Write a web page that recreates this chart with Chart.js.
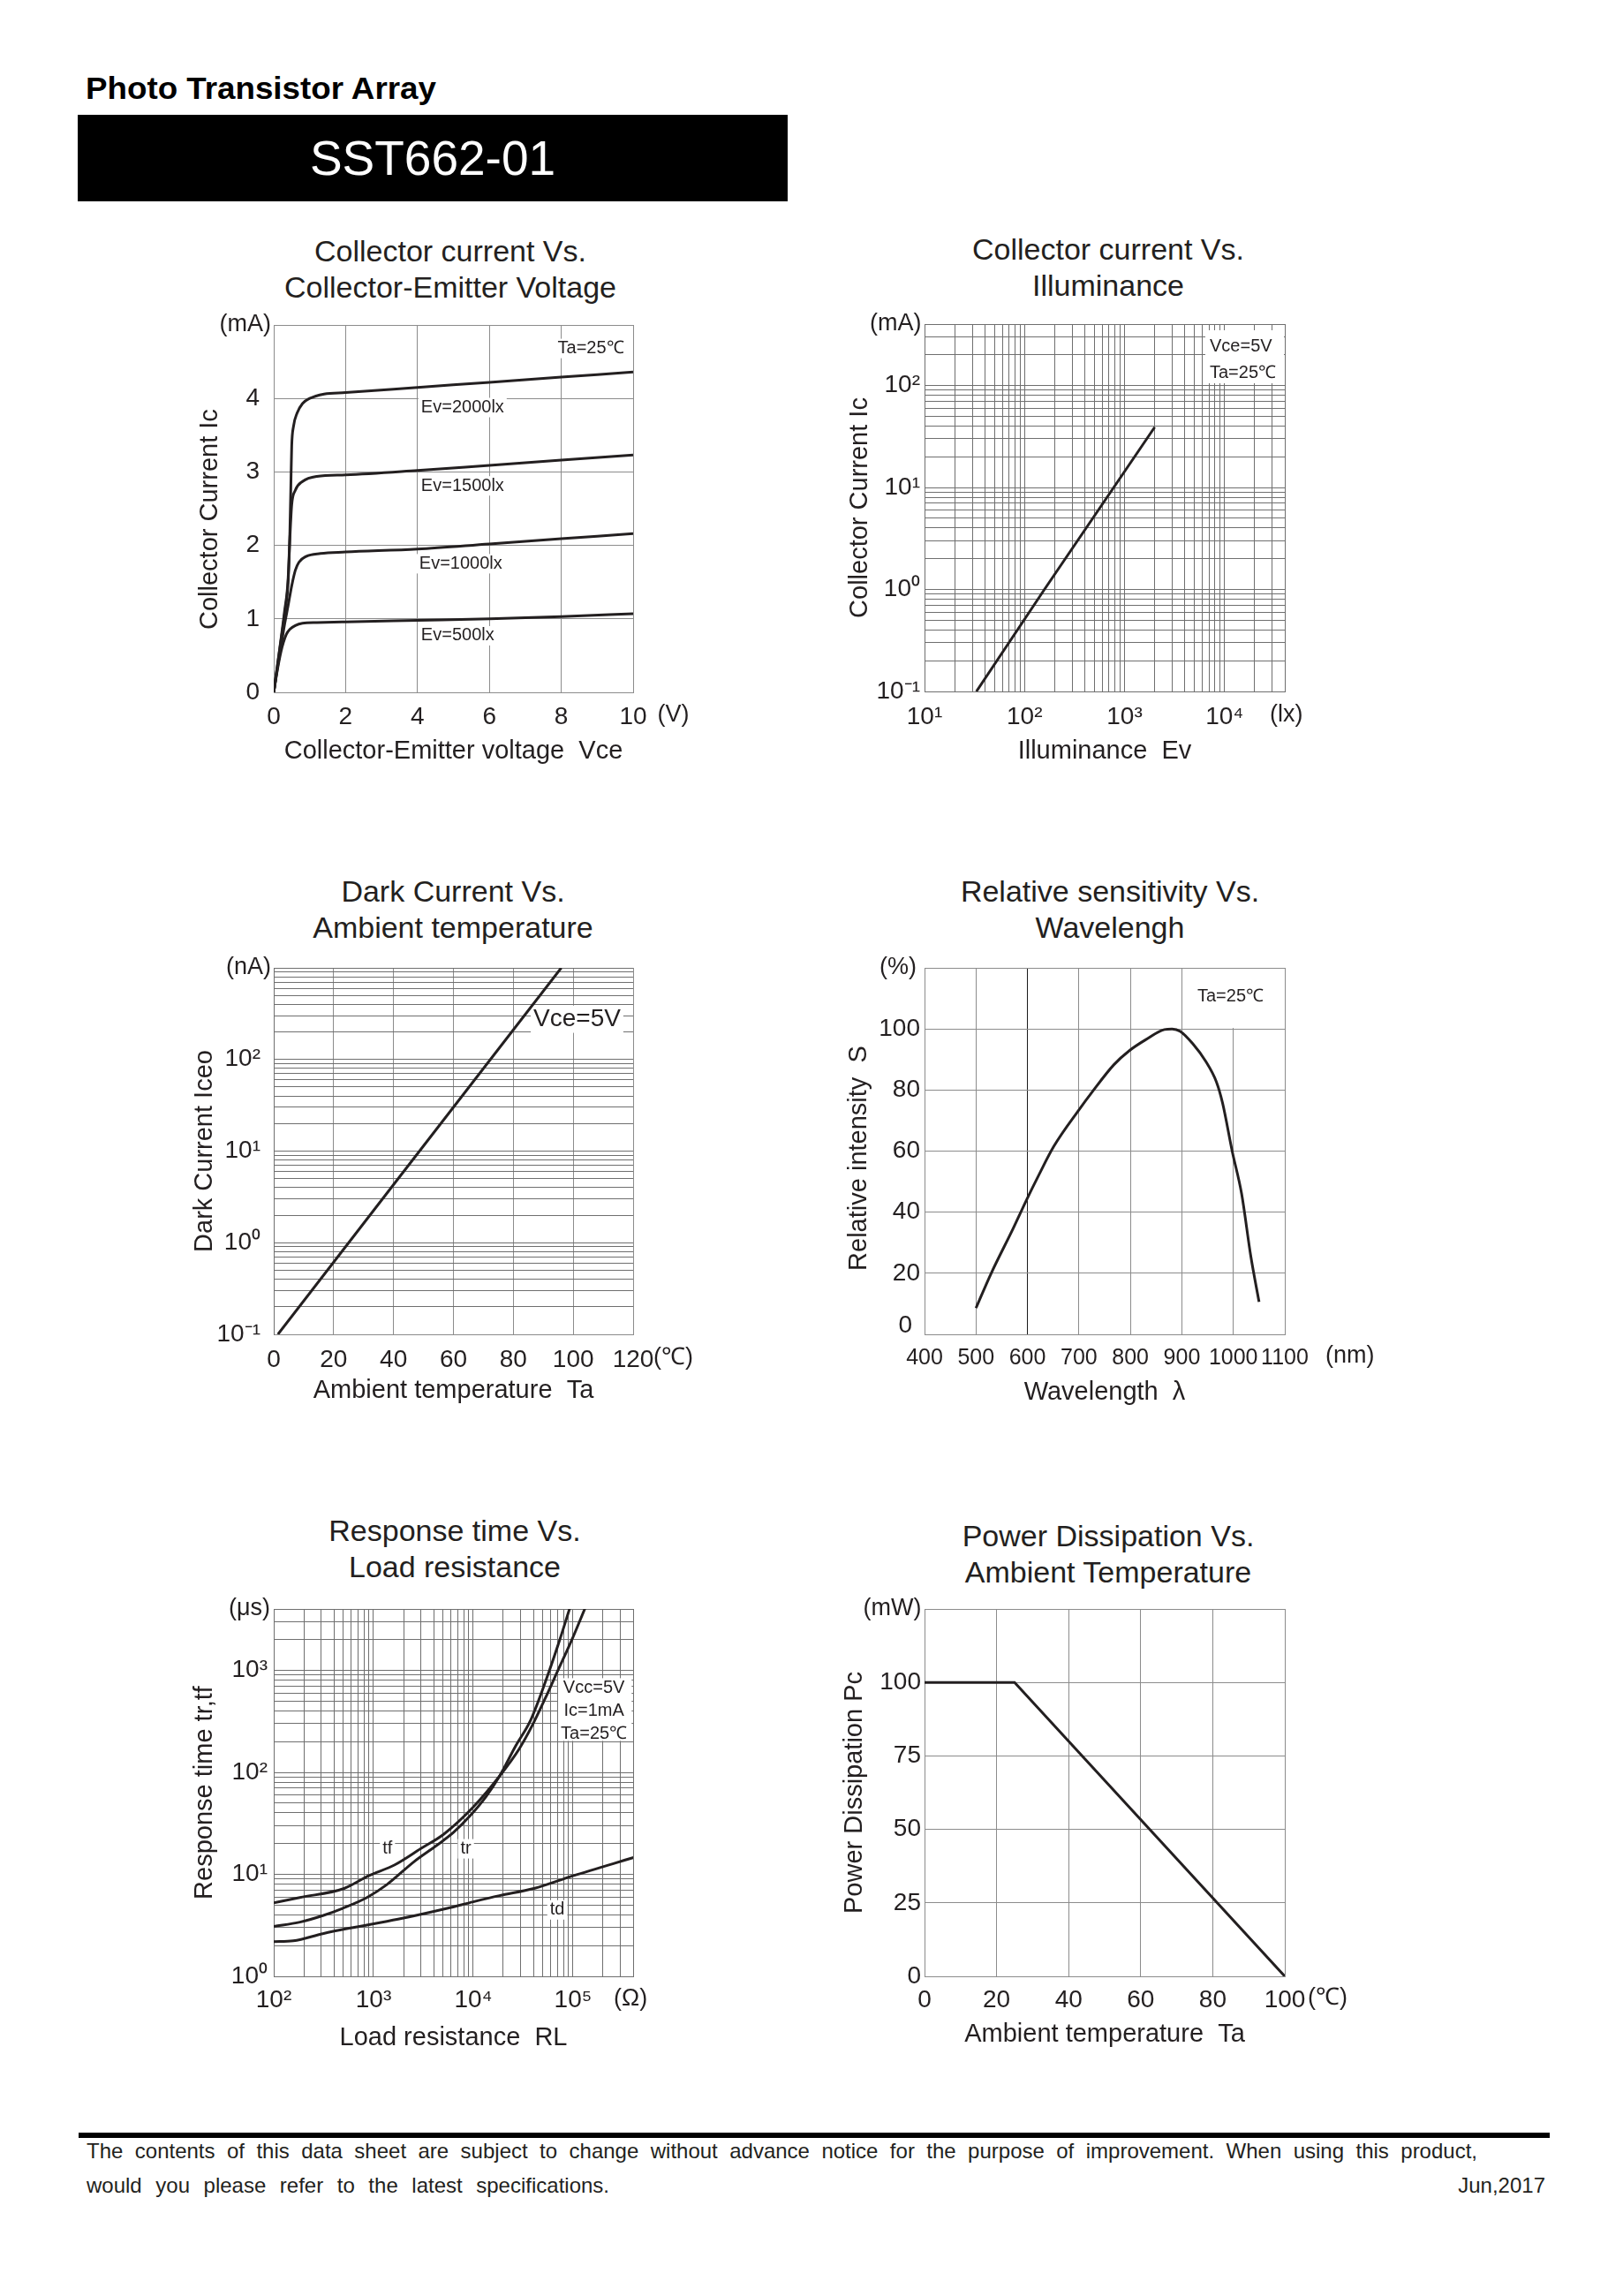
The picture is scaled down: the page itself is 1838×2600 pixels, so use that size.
<!DOCTYPE html>
<html><head><meta charset="utf-8">
<script src="https://cdn.jsdelivr.net/npm/chart.js@4.4.0/dist/chart.umd.min.js"></script>
<style>
html,body{margin:0;padding:0;background:#fff;}
body{width:1838px;height:2600px;position:relative;overflow:hidden;font-family:'Liberation Sans',Arial,Helvetica,sans-serif;color:#231f20;}
.abs{position:absolute;white-space:nowrap;}
.ttl{position:absolute;width:600px;text-align:center;font-size:34px;line-height:41px;white-space:nowrap;color:#231f20;}
canvas{position:absolute;}
</style></head><body>
<div class="abs" style="left:97px;top:82.1px;font-size:35px;line-height:35px;font-weight:bold;color:#000;transform:scaleX(1.05);transform-origin:0 0;">Photo Transistor Array</div>
<div class="abs" style="left:88px;top:130px;width:804px;height:98px;background:#000;"></div>
<div class="abs" style="left:88px;top:151.7px;width:804px;text-align:center;color:#fff;font-size:55px;line-height:55px;">SST662-01</div>

<div class="ttl" style="left:210px;top:264.4px;">Collector current Vs.<br>Collector-Emitter Voltage</div>
<div class="ttl" style="left:955px;top:262px;">Collector current Vs.<br>Illuminance</div>
<div class="ttl" style="left:213px;top:989.2px;">Dark Current Vs.<br>Ambient temperature</div>
<div class="ttl" style="left:957px;top:989.2px;">Relative sensitivity Vs.<br>Wavelengh</div>
<div class="ttl" style="left:215px;top:1712.6px;">Response time Vs.<br>Load resistance</div>
<div class="ttl" style="left:955px;top:1718.7px;">Power Dissipation Vs.<br>Ambient Temperature</div>

<div class="abs" style="left:89px;top:2415px;width:1666px;height:6px;background:#000;"></div>
<div class="abs" style="left:98px;top:2423.7px;width:1575px;font-size:24px;line-height:24px;text-align:justify;text-align-last:justify;white-space:normal;">The contents of this data sheet are subject to change without advance notice for the purpose of improvement. When using this product,</div>
<div class="abs" style="left:98px;top:2462.7px;width:592px;font-size:24px;line-height:24px;text-align:justify;text-align-last:justify;white-space:normal;">would you please refer to the latest specifications.</div>
<div class="abs" style="left:1550px;top:2462.7px;width:200px;font-size:24px;line-height:24px;text-align:right;">Jun,2017</div>

<script>
// ===================== DATA =====================
// Chart 1: Collector current vs Collector-Emitter voltage (mA vs V)
const vce500  = [0,0.1,0.2,0.27,0.35,0.45,0.6,0.8,1.2,2,4,6,8,10];
const ic500   = [0,0.3,0.55,0.68,0.79,0.86,0.91,0.94,0.95,0.96,0.98,1.0,1.03,1.07];
const vce1000 = [0,0.1,0.2,0.3,0.4,0.5,0.6,0.7,0.9,1.3,2,4,6,8,10];
const ic1000  = [0,0.32,0.62,0.92,1.18,1.45,1.66,1.77,1.85,1.89,1.91,1.95,2.02,2.09,2.16];
const vce1500 = [0,0.1,0.2,0.3,0.4,0.45,0.5,0.6,0.8,1.2,2,4,6,8,10];
const ic1500  = [0,0.35,0.7,1.05,1.5,2.1,2.55,2.75,2.87,2.94,2.96,3.02,3.09,3.16,3.23];
const vce2000 = [0,0.1,0.2,0.3,0.4,0.45,0.48,0.5,0.55,0.65,0.8,1.0,1.4,2,4,6,8,10];
const ic2000  = [0,0.36,0.72,1.1,1.55,2.2,2.9,3.35,3.62,3.8,3.93,4.0,4.06,4.08,4.15,4.22,4.29,4.36];
const vceTicks = [0,2,4,6,8,10];
const icTicks  = [0,1,2,3,4];

// Chart 2: Collector current vs Illuminance (log-log)
const evLux = [33, 158, 2000];
const icEv  = [0.1, 1.0, 39];
const luxDecades = [10, 100, 1000, 10000];
const icDecades  = [0.1, 1, 10, 100];

// Chart 3: Dark current vs ambient temperature
const taDark = [1.4, 40, 96];
const iceo   = [0.1, 4.3, 1000];
const taTicks3 = [0,20,40,60,80,100,120];
const iceoDecades = [0.1, 1, 10, 100];

// Chart 4: Relative sensitivity vs wavelength
const wavelength = [500,529,572,599,621,651,700,725,768,798,829,866,881,897,921,946,967,979,998,1016,1034,1050];
const sensitivity = [8.6,19.8,34.6,44.3,51.8,61.5,73.5,79.2,88.3,92.9,96.4,99.8,100,99.2,95.2,89.5,82.7,75.8,59.8,46.1,25.5,10.6];
const wlTicks = [400,500,600,700,800,900,1000,1100];
const sTicks  = [20,40,60,80,100];

// Chart 5: Response time vs load resistance (log-log)
const rlTf = [100,183,507,893,1633,2985,5070,10000,18280,28760,38900,52500,71100,96400,132000];
const tf   = [5.25,5.93,7.27,9.68,12.4,17.9,24.8,45.7,91.4,169,287,529,1016,1954,4074];
const rlTr = [100,183,310,489,860,1352,2570,4355,6350,9270,13500,18280,26700,37500,52600,71100,92700];
const tr   = [3.08,3.4,3.94,4.64,5.93,7.89,13.4,19.4,25.8,37.4,58.3,91.4,183,324,764,1800,4074];
const rlTd = [100,157,310,568,1763,5470,10000,18280,40500,100000,404000];
const td   = [2.19,2.23,2.62,2.96,3.63,4.64,5.38,6.18,7.27,9.68,14.6];
const rlDecades = [100, 1000, 10000, 100000];
const tDecades  = [1, 10, 100, 1000];

// Chart 6: Power dissipation vs ambient temperature
const taPow = [0, 25, 100];
const pc    = [100, 100, 0];
const taTicks6 = [0,20,40,60,80,100];
const pcTicks  = [0,25,50,75,100];

// ===================== HELPERS =====================
const FONT = "'Liberation Sans', Arial, Helvetica, sans-serif";
const TXT = '#231f20';
const GRID = '#8c8c8c';
const GRIDLOG = '#6f6f6f';
const LINE = '#231f20';
const TICK = 28;

function pts(xs, ys) { return xs.map((x, i) => ({x: x, y: ys[i]})); }
function logGrid(decades, top) {
  const out = [];
  decades.forEach(d => { for (let m = 1; m <= 9; m++) { const v = Number((m * d).toPrecision(6)); if (v <= top) out.push(v); } });
  if (out[out.length - 1] !== top) out.push(top);
  return out;
}
const SUP = {'-':'\u207B','0':'\u2070','1':'\u00B9','2':'\u00B2','3':'\u00B3','4':'\u2074','5':'\u2075'};
function powLabel(decades) {
  return function (v) {
    for (const d of decades) {
      if (Math.abs(v - d) < d * 1e-6) {
        const e = Math.round(Math.log10(d));
        return '10' + String(e).split('').map(c => SUP[c]).join('');
      }
    }
    return '';
  };
}
function listLabel(list) { return function (v) { return list.some(t => Math.abs(t - v) < 1e-9) ? String(v) : ''; }; }

const annotPlugin = {
  id: 'annot',
  beforeDatasetsDraw(chart, args, opts) {
    const ctx = chart.ctx, a = chart.chartArea, xs = chart.scales.x, ys = chart.scales.y;
    const pos = (it) => {
      if (it.data) return [xs.getPixelForValue(it.data[0]), ys.getPixelForValue(it.data[1])];
      return [(it.ax === 'right' ? a.right : a.left) + (it.dx || 0), (it.ay === 'bottom' ? a.bottom : a.top) + (it.dy || 0)];
    };
    ctx.save();
    (opts.boxes || []).forEach(b => { const p = pos(b); ctx.fillStyle = '#fff'; ctx.fillRect(p[0], p[1], b.w, b.h); });
    (opts.labels || []).forEach(l => {
      const p = pos(l), size = l.size || 20;
      ctx.font = size + 'px ' + FONT;
      ctx.textAlign = l.align || 'left';
      ctx.textBaseline = 'middle';
      if (l.bg) {
        const w = ctx.measureText(l.text).width;
        const x0 = l.align === 'center' ? p[0] - w / 2 : (l.align === 'right' ? p[0] - w : p[0]);
        ctx.fillStyle = '#fff'; ctx.fillRect(x0 - 3, p[1] - size * 0.55, w + 6, size * 1.1);
      }
      ctx.fillStyle = TXT; ctx.fillText(l.text, p[0], p[1]);
    });
    ctx.restore();
  }
};

function scale(o) {
  const s = {
    type: o.type, min: o.min, max: o.max, position: o.pos,
    grid: {color: o.gridColor || GRID, lineWidth: 1, drawTicks: false},
    border: {display: true, color: o.borderColor || GRID, width: 1},
    ticks: {autoSkip: false, maxRotation: 0, minRotation: 0, padding: o.tickPad, color: TXT,
            font: {family: FONT, size: o.tickSize || TICK}, callback: o.cb},
    title: {display: true, text: o.title, color: TXT, font: {family: FONT, size: 29},
            padding: o.pos === 'bottom' ? {top: 0, bottom: o.titlePad} : {top: o.titlePad, bottom: 0}},
    afterFit: o.pos === 'bottom'
      ? function (sc) { sc.height = 100; sc.paddingLeft = 0; sc.paddingRight = 0; }
      : function (sc) { sc.width = 120; sc.paddingTop = 0; sc.paddingBottom = 0; }
  };
  if (o.step !== undefined) s.ticks.stepSize = o.step;
  if (o.grid) s.afterBuildTicks = function (sc) { sc.ticks = o.grid.map(v => ({value: v})); };
  return s;
}

function line(data, smooth) {
  return {data: data, borderColor: LINE, borderWidth: 3, pointRadius: 0, fill: false,
          showLine: true, tension: 0, cubicInterpolationMode: smooth ? 'monotone' : 'default'};
}

function mk(plotLeft, plotTop, plotW, plotH, datasets, xs, ys, annot) {
  const c = document.createElement('canvas');
  const W = 120 + plotW + 110, H = 40 + plotH + 100;
  c.width = W; c.height = H;
  c.style.left = (plotLeft - 120) + 'px'; c.style.top = (plotTop - 40) + 'px';
  c.style.width = W + 'px'; c.style.height = H + 'px';
  document.body.appendChild(c);
  new Chart(c.getContext('2d'), {
    type: 'scatter',
    data: {datasets: datasets},
    plugins: [annotPlugin],
    options: {
      responsive: false, animation: false, devicePixelRatio: 1,
      layout: {padding: {left: 0, top: 40, right: 110, bottom: 0}},
      plugins: {legend: {display: false}, tooltip: {enabled: false}, annot: annot},
      scales: {x: xs, y: ys}
    }
  });
}

// ===================== CHART 1 =====================
mk(310, 368, 407, 416,
  [line(pts(vce500, ic500), true), line(pts(vce1000, ic1000), true), line(pts(vce1500, ic1500), true), line(pts(vce2000, ic2000), true)],
  scale({type: 'linear', min: 0, max: 10, step: 2, pos: 'bottom', tickPad: 11, cb: listLabel(vceTicks),
         title: 'Collector-Emitter voltage  Vce', titlePad: 15.6}),
  scale({type: 'linear', min: 0, max: 5, step: 1, pos: 'left', tickPad: 16, cb: listLabel(icTicks),
         title: 'Collector Current Ic   ', titlePad: 30.3}),
  {labels: [
    {text: '(mA)', ax: 'left', dx: -3, ay: 'top', dy: 0, align: 'right', size: 27},
    {text: '(V)', ax: 'right', dx: 27.5, ay: 'bottom', dy: 25.5, align: 'left', size: 27},
    {text: 'Ta=25\u2103', data: [7.9, 4.68], align: 'left', size: 20, bg: true},
    {text: 'Ev=2000lx', data: [4.1, 3.876], align: 'left', size: 20, bg: true},
    {text: 'Ev=1500lx', data: [4.1, 2.81], align: 'left', size: 20, bg: true},
    {text: 'Ev=1000lx', data: [4.05, 1.75], align: 'left', size: 20, bg: true},
    {text: 'Ev=500lx', data: [4.1, 0.77], align: 'left', size: 20, bg: true}
  ]});

// ===================== CHART 2 =====================
mk(1047, 367, 408, 416,
  [line(pts(evLux, icEv), false)],
  scale({type: 'logarithmic', min: 10, max: 40000, pos: 'bottom', tickPad: 12, cb: powLabel(luxDecades),
         grid: logGrid(luxDecades, 40000), gridColor: GRIDLOG, borderColor: GRIDLOG,
         title: 'Illuminance  Ev', titlePad: 15.1}),
  scale({type: 'logarithmic', min: 0.1, max: 400, pos: 'left', tickPad: 5, cb: powLabel(icDecades),
         grid: logGrid(icDecades, 400), gridColor: GRIDLOG, borderColor: GRIDLOG,
         title: 'Collector Current Ic', titlePad: 29.6}),
  {boxes: [{ax: 'right', dx: -90, ay: 'top', dy: 7, w: 89, h: 60}],
   labels: [
    {text: '(mA)', ax: 'left', dx: -3.5, ay: 'top', dy: 0, align: 'right', size: 27},
    {text: '(lx)', ax: 'right', dx: -17, ay: 'bottom', dy: 26.5, align: 'left', size: 27},
    {text: 'Vce=5V', ax: 'right', dx: -85, ay: 'top', dy: 25, align: 'left', size: 20},
    {text: 'Ta=25\u2103', ax: 'right', dx: -85, ay: 'top', dy: 55.8, align: 'left', size: 20}
  ]});

// ===================== CHART 3 =====================
mk(310, 1096, 407, 415,
  [line(pts(taDark, iceo), false)],
  scale({type: 'linear', min: 0, max: 120, step: 20, pos: 'bottom', tickPad: 12, cb: listLabel(taTicks3),
         title: 'Ambient temperature  Ta', titlePad: 19}),
  scale({type: 'logarithmic', min: 0.1, max: 1000, pos: 'left', tickPad: 15, cb: powLabel(iceoDecades),
         grid: logGrid(iceoDecades, 1000), gridColor: GRIDLOG, borderColor: GRIDLOG,
         title: 'Dark Current Iceo', titlePad: 24.6}),
  {labels: [
    {text: '(nA)', ax: 'left', dx: -3, ay: 'top', dy: 0, align: 'right', size: 27},
    {text: '(\u2103)', ax: 'right', dx: 23, ay: 'bottom', dy: 26.5, align: 'left', size: 27},
    {text: 'Vce=5V', data: [86.7, 275], align: 'left', size: 28, bg: true}
  ]});

// ===================== CHART 4 =====================
mk(1047, 1096, 408, 415,
  [line(pts(wavelength, sensitivity), true)],
  Object.assign(scale({type: 'linear', min: 400, max: 1100, step: 100, pos: 'bottom', tickPad: 11.9, tickSize: 25, cb: listLabel(wlTicks),
         title: 'Wavelength  \u03BB', titlePad: 17}),
         {grid: {drawTicks: false, lineWidth: 1, color: function (c) { return (c.tick && c.tick.value === 600) ? '#1a1a1a' : GRID; }}}),
  scale({type: 'linear', min: 0, max: 120, step: 20, pos: 'left', tickPad: 5, cb: listLabel(sTicks),
         title: 'Relative intensity  S  ', titlePad: 28.6}),
  {boxes: [{ax: 'right', dx: -100, ay: 'top', dy: 1, w: 99, h: 67}],
   labels: [
    {text: '(%)', ax: 'left', dx: -9, ay: 'top', dy: 0, align: 'right', size: 27},
    {text: '0', ax: 'left', dx: -14, ay: 'bottom', dy: -10, align: 'right', size: TICK},
    {text: '(nm)', ax: 'right', dx: 46, ay: 'bottom', dy: 25, align: 'left', size: 27},
    {text: 'Ta=25\u2103', ax: 'right', dx: -99, ay: 'top', dy: 32, align: 'left', size: 20}
  ]});

// ===================== CHART 5 =====================
mk(310, 1822, 407, 416,
  [line(pts(rlTf, tf), true), line(pts(rlTr, tr), true), line(pts(rlTd, td), true)],
  scale({type: 'logarithmic', min: 100, max: 400000, pos: 'bottom', tickPad: 10.8, cb: powLabel(rlDecades),
         grid: logGrid(rlDecades, 400000), gridColor: GRIDLOG, borderColor: GRIDLOG,
         title: 'Load resistance  RL', titlePad: 12.6}),
  scale({type: 'logarithmic', min: 1, max: 4000, pos: 'left', tickPad: 7, cb: powLabel(tDecades),
         grid: logGrid(tDecades, 4000), gridColor: GRIDLOG, borderColor: GRIDLOG,
         title: 'Response time tr,tf', titlePad: 24.6}),
  {boxes: [{ax: 'right', dx: -85, ay: 'top', dy: 78.4, w: 83.3, h: 71}],
   labels: [
    {text: '(\u03BCs)', ax: 'left', dx: -4, ay: 'top', dy: 0, align: 'right', size: 27},
    {text: '(\u03A9)', ax: 'right', dx: -22, ay: 'bottom', dy: 25.3, align: 'left', size: 27},
    {text: 'Vcc=5V', ax: 'right', dx: -44.4, ay: 'top', dy: 89.8, align: 'center', size: 20},
    {text: 'Ic=1mA', ax: 'right', dx: -44.4, ay: 'top', dy: 115.2, align: 'center', size: 20},
    {text: 'Ta=25\u2103', ax: 'right', dx: -44.4, ay: 'top', dy: 141.7, align: 'center', size: 20},
    {text: 'tf', data: [1380, 17.8], align: 'center', size: 20, bg: true},
    {text: 'tr', data: [8430, 17.8], align: 'center', size: 20, bg: true},
    {text: 'td', data: [69500, 4.48], align: 'center', size: 20, bg: true}
  ]});

// ===================== CHART 6 =====================
mk(1047, 1822, 408, 416,
  [line(pts(taPow, pc), false)],
  scale({type: 'linear', min: 0, max: 100, step: 20, pos: 'bottom', tickPad: 10, cb: listLabel(taTicks6),
         title: 'Ambient temperature  Ta', titlePad: 16.6}),
  scale({type: 'linear', min: 0, max: 125, step: 25, pos: 'left', tickPad: 4, cb: listLabel(pcTicks),
         title: 'Power Dissipation Pc', titlePad: 23.2}),
  {labels: [
    {text: '(mW)', ax: 'left', dx: -3.5, ay: 'top', dy: 0, align: 'right', size: 27},
    {text: '(\u2103)', ax: 'right', dx: 26, ay: 'bottom', dy: 24.5, align: 'left', size: 27}
  ]});
</script>
</body></html>
